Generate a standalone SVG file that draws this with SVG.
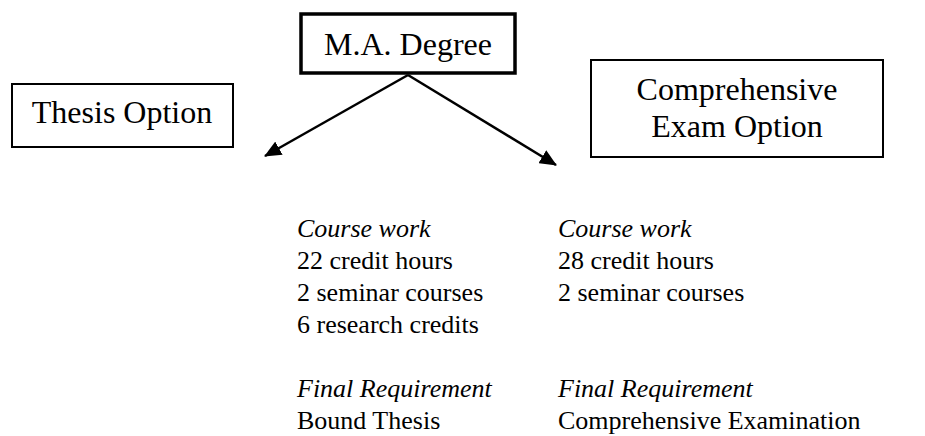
<svg xmlns="http://www.w3.org/2000/svg" width="925" height="436" viewBox="0 0 925 436">
<defs>
<style>
text{fill:#000}
.b{font-size:32px}
.t{font-size:26px}
.c{text-anchor:middle}
.i{font-style:italic}
.box{fill:#fff;stroke:#000;stroke-width:2}
.thick{stroke-width:3.5}
.conn line{stroke:#000;stroke-width:2.5;fill:none}
</style>
<marker id="ah" viewBox="0 0 17 15" refX="16" refY="7.5" markerWidth="17" markerHeight="15" markerUnits="userSpaceOnUse" orient="auto">
<path d="M0,0 L17,7.5 L0,15 z" fill="#000"/>
</marker>
</defs>
<rect width="925" height="436" fill="#fff"/>
<g id="connectors" class="conn">
<line x1="408" y1="75" x2="265" y2="156" marker-end="url(#ah)"/>
<line x1="408" y1="75" x2="556" y2="165" marker-end="url(#ah)"/>
</g>
<g font-family="Liberation Serif, serif">
<g id="ma-degree">
<rect class="box thick" x="301" y="14" width="214" height="59"/>
<text class="b c" x="408" y="55">M.A. Degree</text>
</g>
<g id="thesis-option">
<rect class="box" x="12" y="84" width="221" height="63"/>
<text class="b c" x="122" y="123">Thesis Option</text>
</g>
<g id="comp-option">
<rect class="box" x="591" y="60" width="292" height="97"/>
<text class="b c" x="737" y="100">Comprehensive</text>
<text class="b c" x="737" y="137">Exam Option</text>
</g>
<g id="thesis-details">
<text class="t i" x="297" y="237">Course work</text>
<text class="t" x="297" y="269">22 credit hours</text>
<text class="t" x="297" y="301">2 seminar courses</text>
<text class="t" x="297" y="333">6 research credits</text>
<text class="t i" x="297" y="397">Final Requirement</text>
<text class="t" x="297" y="429">Bound Thesis</text>
</g>
<g id="comp-details">
<text class="t i" x="558" y="237">Course work</text>
<text class="t" x="558" y="269">28 credit hours</text>
<text class="t" x="558" y="301">2 seminar courses</text>
<text class="t i" x="558" y="397">Final Requirement</text>
<text class="t" x="558" y="429">Comprehensive Examination</text>
</g>
</g>
</svg>
